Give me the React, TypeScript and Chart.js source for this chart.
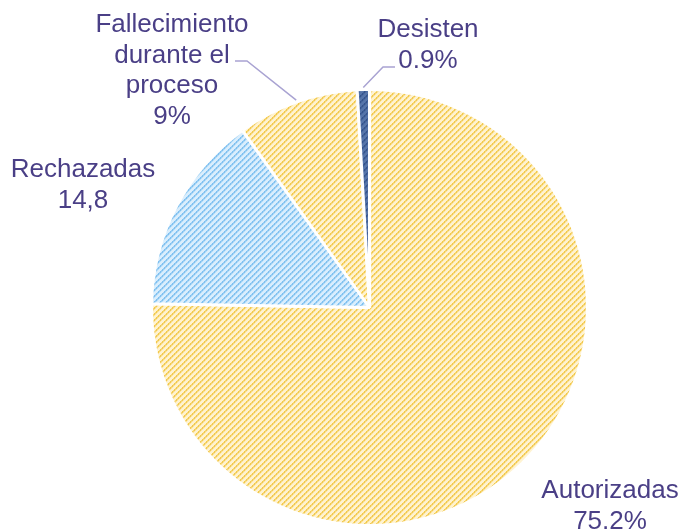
import React, { useEffect, useRef } from "react";
import { Chart, registerables } from "chart.js";

Chart.register(...registerables);

// ---- data ----
const categories = ["Autorizadas", "Rechazadas", "Fallecimiento durante el proceso", "Desisten"];
const values = [75.2, 14.8, 9, 0.9];
const labelLines = [["Autorizadas"], ["Rechazadas"], ["Fallecimiento", "durante el", "proceso"], ["Desisten"]];
const valueLabels = ["75.2%", "14,8", "9%", "0.9%"];

// ---- styling / layout ----
const TEXT_COLOR = "#4a3f86";
const LEADER_COLOR = "#a9a3d2";
const FONT = "26px 'Liberation Sans', Arial, sans-serif";
const LINE_H = 30.5;
// label anchors: center x, first baseline y
const labelPos = [
  { x: 610, y: 498 },
  { x: 83, y: 177 },
  { x: 172, y: 32 },
  { x: 428, y: 37 },
];
// leader elbows (null = no leader)
const leaders: (number[][] | null)[] = [
  null,
  null,
  [[235, 61], [247, 61]],
  [[395, 67], [383, 67]],
];

function makePattern(bg: string, strong: string, mid: string, light: string) {
  const size = 6;
  const c = document.createElement("canvas");
  c.width = size;
  c.height = size;
  const g = c.getContext("2d")!;
  g.fillStyle = bg;
  g.fillRect(0, 0, size, size);
  for (let i = 0; i < size; i++) {
    const y = size - 1 - i;
    g.fillStyle = i % 2 === 0 ? strong : mid;
    g.fillRect(i, y, 1, 1);
    g.fillStyle = i % 2 === 0 ? mid : strong;
    g.fillRect((i + 1) % size, y, 1, 1);
    g.fillStyle = light;
    g.fillRect((i + 2) % size, y, 1, 1);
  }
  return g.createPattern(c, "repeat")!;
}

const labelPlugin = {
  id: "labelPlugin",
  afterDraw(chart: any) {
    const ctx = chart.ctx as CanvasRenderingContext2D;
    const meta = chart.getDatasetMeta(0);
    ctx.save();
    // leaders
    ctx.strokeStyle = LEADER_COLOR;
    ctx.lineWidth = 1.5;
    meta.data.forEach((arc: any, i: number) => {
      const pts = leaders[i];
      if (!pts) return;
      const p = arc.getProps(["x", "y", "startAngle", "endAngle", "outerRadius"], true);
      const mid = (p.startAngle + p.endAngle) / 2;
      const ex = p.x + Math.cos(mid) * (p.outerRadius + 2);
      const ey = p.y + Math.sin(mid) * (p.outerRadius + 2);
      ctx.beginPath();
      ctx.moveTo(pts[0][0], pts[0][1]);
      for (let k = 1; k < pts.length; k++) ctx.lineTo(pts[k][0], pts[k][1]);
      ctx.lineTo(ex, ey);
      ctx.stroke();
    });
    // text
    ctx.fillStyle = TEXT_COLOR;
    ctx.font = FONT;
    ctx.textAlign = "center";
    ctx.textBaseline = "alphabetic";
    labelLines.forEach((lines, i) => {
      const all = [...lines, valueLabels[i]];
      all.forEach((t, k) => {
        ctx.fillText(t, labelPos[i].x, labelPos[i].y + k * LINE_H);
      });
    });
    ctx.restore();
  },
};

export default function App() {
  const ref = useRef<HTMLCanvasElement>(null);
  useEffect(() => {
    if (!ref.current) return;
    const yellow = makePattern("#fff3d0", "#f3c94c", "#f6d673", "#fae4a4");
    const blue = makePattern("#daeefd", "#7fc0f0", "#98cdf4", "#badff8");
    const dark = makePattern("#5675aa", "#35548c", "#405f98", "#4a6aa0");
    const chart = new Chart(ref.current, {
      type: "pie",
      data: {
        labels: categories,
        datasets: [
          {
            data: values,
            backgroundColor: [yellow, blue, yellow, dark],
            borderColor: "#ffffff",
            borderWidth: 3,
          },
        ],
      },
      options: {
        responsive: false,
        animation: false,
        layout: { padding: { left: 150, top: 88, right: 92, bottom: 4 } },
        plugins: {
          legend: { display: false },
          tooltip: { enabled: false },
        },
      },
      plugins: [labelPlugin],
    });
    return () => chart.destroy();
  }, []);
  return (
    <div style={{ position: "fixed", left: 0, top: 0, width: 681, height: 531, background: "#fff" }}>
      <canvas ref={ref} width={681} height={531} />
    </div>
  );
}
